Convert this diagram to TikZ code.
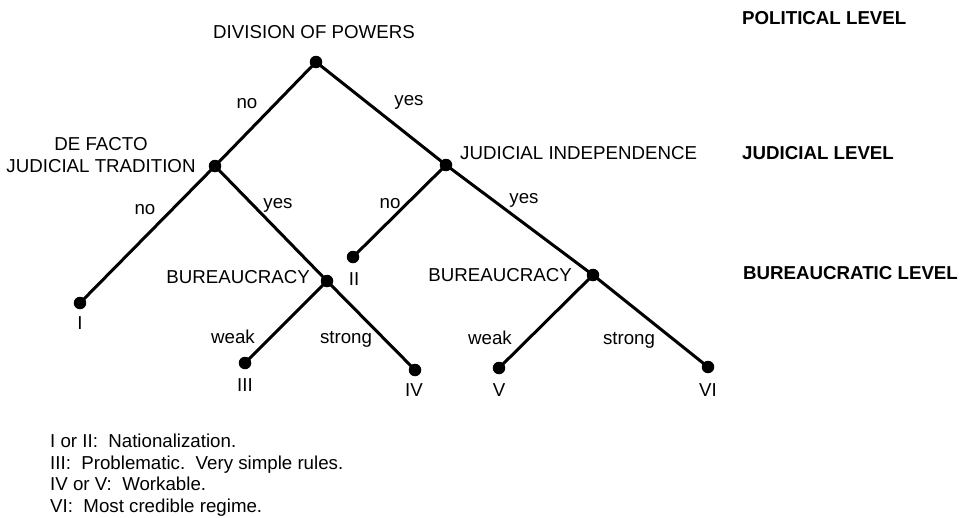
\documentclass[tikz,border=0pt]{standalone}
\usepackage{fontspec}
\setmainfont{Liberation Sans}
\begin{document}
\begin{tikzpicture}[x=1pt,y=-1pt,
  dot/.style={circle,fill=black,inner sep=0pt,minimum size=12.5pt},
  branch/.style={line width=3pt},
  txt/.style={font=\fontsize{18.7}{22}\selectfont,inner sep=0pt,anchor=base},
  lvl/.style={font=\fontsize{18.7}{22}\selectfont\bfseries,inner sep=0pt,anchor=base west},
  leg/.style={font=\fontsize{18.7}{22}\selectfont,inner sep=0pt,anchor=base west}]
\useasboundingbox (0,0) rectangle (972,517);
% decision points and outcomes
\node[dot] (root) at (316,62) {};
\node[dot] (dft) at (215,166) {};
\node[dot] (ji) at (446,165) {};
\node[dot] (oI) at (80,303) {};
\node[dot] (bl) at (327,281) {};
\node[dot] (oII) at (353,257) {};
\node[dot] (br) at (593,275) {};
\node[dot] (oIII) at (245,363) {};
\node[dot] (oIV) at (415,370) {};
\node[dot] (oV) at (499,368) {};
\node[dot] (oVI) at (708,367) {};
% branches
\draw[branch] (root.center) -- (dft.center);
\draw[branch] (root.center) -- (ji.center);
\draw[branch] (dft.center) -- (oI.center);
\draw[branch] (dft.center) -- (bl.center);
\draw[branch] (ji.center) -- (oII.center);
\draw[branch] (ji.center) -- (br.center);
\draw[branch] (bl.center) -- (oIII.center);
\draw[branch] (bl.center) -- (oIV.center);
\draw[branch] (br.center) -- (oV.center);
\draw[branch] (br.center) -- (oVI.center);
% node titles
\node[txt] (tdiv) at (314,38.7) {DIVISION OF POWERS};
\node[txt] (tdf1) at (101,150.7) {DE FACTO};
\node[txt] (tdf2) at (101,172.7) {JUDICIAL TRADITION};
\node[txt,anchor=base west] (tji) at (460,159.7) {JUDICIAL INDEPENDENCE};
\node[txt,anchor=base east] (tbl) at (310,283.7) {BUREAUCRACY};
\node[txt,anchor=base east] (tbr) at (572,281.2) {BUREAUCRACY};
% branch labels
\node[txt] (l1) at (247,108) {no};
\node[txt] (l2) at (409,105) {yes};
\node[txt] (l3) at (145,214) {no};
\node[txt] (l4) at (278,208) {yes};
\node[txt] (l5) at (390,208) {no};
\node[txt] (l6) at (524,203) {yes};
\node[txt] (l7) at (233,343) {weak};
\node[txt] (l8) at (346,343) {strong};
\node[txt] (l9) at (490,344) {weak};
\node[txt] (l10) at (629,344) {strong};
% outcome labels
\node[txt] (rI) at (80,329.7) {I};
\node[txt] (rII) at (354,285.7) {II};
\node[txt] (rIII) at (245,391.7) {III};
\node[txt] (rIV) at (414,396.7) {IV};
\node[txt] (rV) at (499,396.7) {V};
\node[txt] (rVI) at (708,396.7) {VI};
% levels
\node[lvl] (pl) at (742,24.7) {POLITICAL LEVEL};
\node[lvl] (jl) at (742,159.7) {JUDICIAL LEVEL};
\node[lvl] (bul) at (743,279.7) {BUREAUCRATIC LEVEL};
% legend
\node[leg] (g1) at (50,447.7) {I or II:\ \ Nationalization.};
\node[leg] (g2) at (50,469.2) {III:\ \ Problematic.\ \ Very simple rules.};
\node[leg] (g3) at (50,490.7) {IV or V:\ \ Workable.};
\node[leg] (g4) at (50,512.2) {VI:\ \ Most credible regime.};
\end{tikzpicture}
\end{document}
